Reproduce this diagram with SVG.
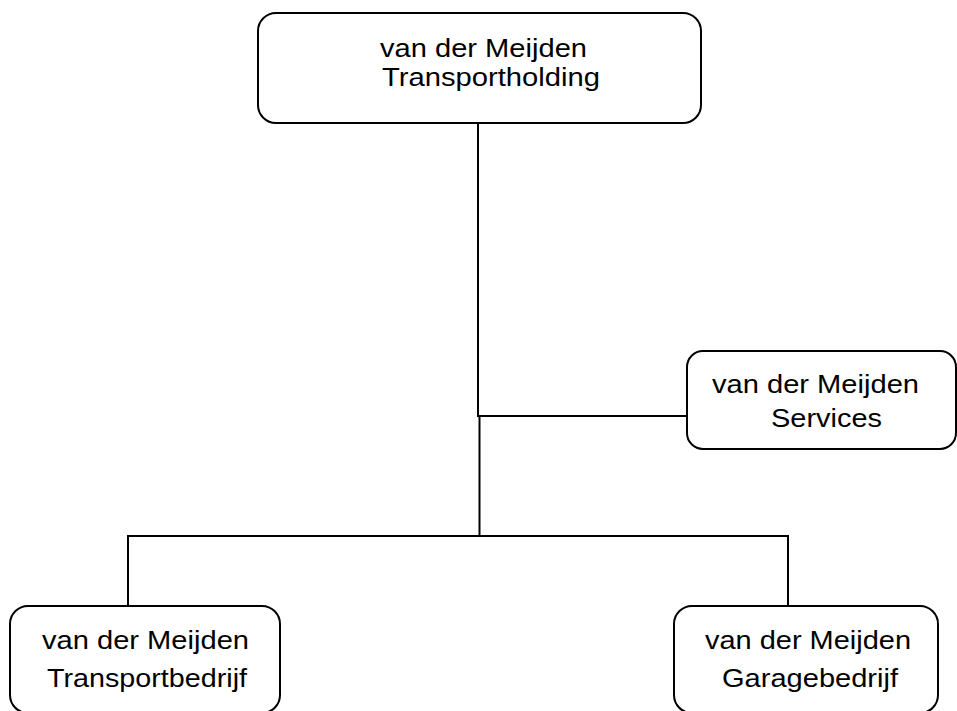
<svg xmlns="http://www.w3.org/2000/svg" width="957" height="711" viewBox="0 0 957 711">
<style>
.box{fill:#fff;stroke:#000;stroke-width:2}
.con{fill:none;stroke:#000;stroke-width:2}
text{font-family:"Liberation Sans",Arial,sans-serif;font-size:25.5px;fill:#000}
</style>
<rect width="957" height="711" fill="#fff"/>
<g id="connectors">
<polyline class="con" points="478,123 478,416 687,416"/>
<line class="con" x1="479.5" y1="415" x2="479.5" y2="537"/>
<polyline class="con" points="128,606 128,536 788,536 788,606"/>
</g>
<g id="holding">
<rect class="box" x="258" y="13" width="443" height="110" rx="18"/>
<text x="380" y="57" textLength="207" lengthAdjust="spacingAndGlyphs">van der Meijden</text>
<text x="382" y="86" textLength="218" lengthAdjust="spacingAndGlyphs">Transportholding</text>
</g>
<g id="services">
<rect class="box" x="687" y="351" width="269" height="98" rx="16"/>
<text x="712" y="393" textLength="207" lengthAdjust="spacingAndGlyphs">van der Meijden</text>
<text x="771" y="427" textLength="111" lengthAdjust="spacingAndGlyphs">Services</text>
</g>
<g id="transportbedrijf">
<rect class="box" x="10" y="606" width="270" height="107" rx="18"/>
<text x="42" y="649" textLength="207" lengthAdjust="spacingAndGlyphs">van der Meijden</text>
<text x="47" y="687" textLength="200" lengthAdjust="spacingAndGlyphs">Transportbedrijf</text>
</g>
<g id="garagebedrijf">
<rect class="box" x="674" y="606" width="264" height="107" rx="18"/>
<text x="705" y="649" textLength="206" lengthAdjust="spacingAndGlyphs">van der Meijden</text>
<text x="722" y="687" textLength="176" lengthAdjust="spacingAndGlyphs">Garagebedrijf</text>
</g>
</svg>
